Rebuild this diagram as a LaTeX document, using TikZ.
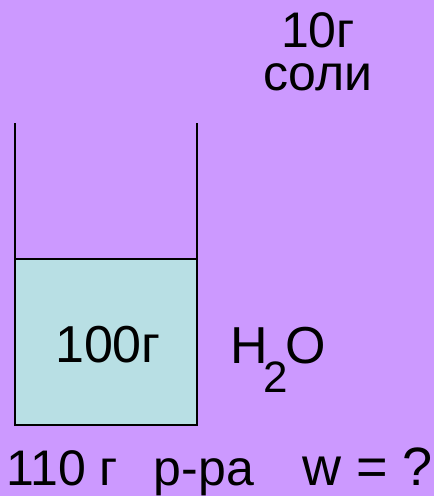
\documentclass[tikz,border=0pt]{standalone}
\usepackage{fontspec}
\setmainfont{Liberation Sans}
\usetikzlibrary{positioning}
\definecolor{lilac}{RGB}{204,153,255}
\definecolor{water}{RGB}{184,223,228}
\tikzset{
  lbl/.style ={inner sep=0pt, font=\fontsize{50}{56}\selectfont},
  big/.style ={lbl, font=\fontsize{52}{58}\selectfont},
  wall/.style={draw=black, line width=2.4pt},
}
\begin{document}
\begin{tikzpicture}[x=1pt,y=-1pt]
\fill[lilac] (0,0) rectangle (434,496);
\useasboundingbox (0,0) rectangle (434,496);
% beaker with water
\filldraw[fill=water, wall] (15,259) rectangle (197,425);
\draw[wall] (15,123) -- (15,425) -- (197,425) -- (197,123);
\node[big, anchor=base] (mass) at (108,362) {100г};
\node[big, anchor=base west] (solvent) at (230,363)
  {H\kern-4pt\raisebox{-29pt}{\fontsize{44}{48}\selectfont 2}\kern-3pt O};
% salt
\node[lbl, anchor=base] (salt) at (318,47) {10г};
\node[lbl, anchor=base] (saltword) at ([yshift=-43pt]salt.base) {соли};
% result
\node[lbl, anchor=base west] (total) at (6,485)
  {110 г\hspace{36pt}р-ра\hspace{48pt}{\fontsize{54}{58}\selectfont w = ?}};
\end{tikzpicture}
\end{document}
